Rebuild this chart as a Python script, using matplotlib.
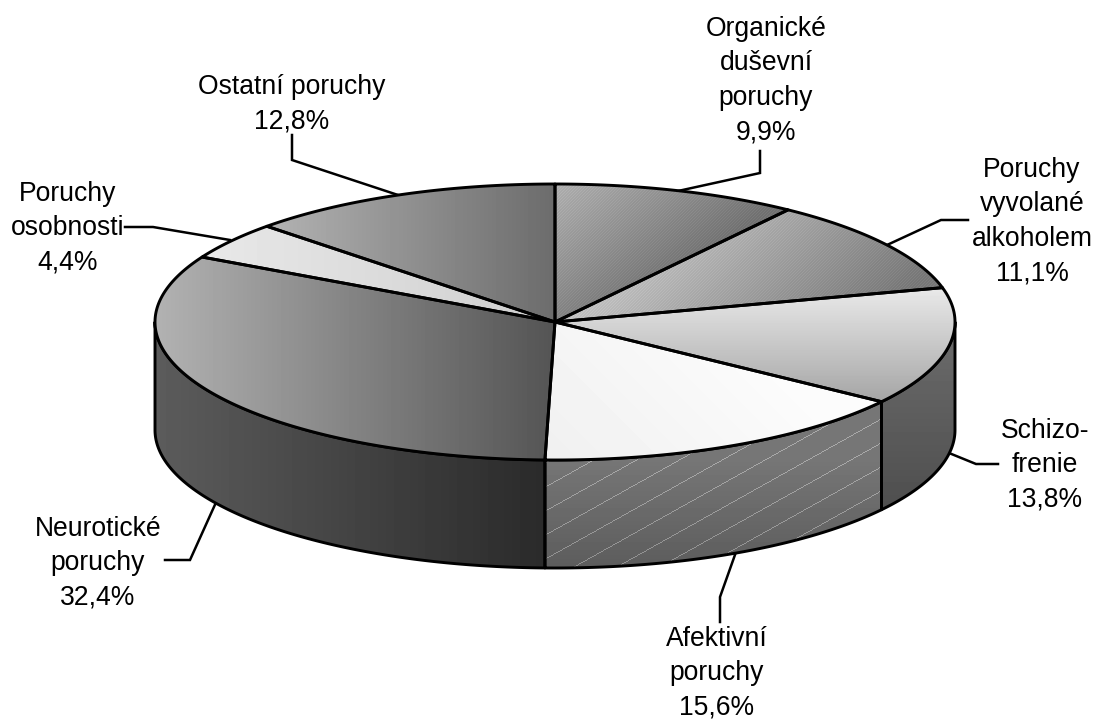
import numpy as np
import matplotlib
matplotlib.use('Agg')
import matplotlib.pyplot as plt
from matplotlib.patches import Polygon

W, H = 1093, 722

labels = [
    'Organické\nduševní\nporuchy',
    'Poruchy\nvyvolané\nalkoholem',
    'Schizo-\nfrenie',
    'Afektivní\nporuchy',
    'Neurotické\nporuchy',
    'Poruchy\nosobnosti',
    'Ostatní poruchy',
]
shares = [9.9, 11.1, 13.8, 15.6, 32.4, 4.4, 12.8]

# pie geometry in pixels
CX, CY = 555, 322
RX, RY = 400, 138
DEPTH = 108

# label centre x and the y of the first line's middle
label_pos = [(766, 27), (1032, 168), (1045, 429), (717, 637), (98, 527), (68, 192), (292, 85)]
leaders = [
    [(678, 191), (760, 173), (760, 151)],
    [(887, 245), (941, 220), (968, 220)],
    [(949, 453), (976, 464), (998, 464)],
    [(736, 552), (720, 597), (720, 622)],
    [(218, 498), (190, 560), (165, 560)],
    [(230, 240), (153, 227), (125, 227)],
    [(398, 195), (292, 160), (292, 135)],
]

plt.rcParams['font.family'] = ['Liberation Sans', 'DejaVu Sans']

fig = plt.figure(figsize=(W / 100, H / 100), dpi=100)
ax = fig.add_axes([0, 0, 1, 1])
ax.set_xlim(0, W)
ax.set_ylim(H, 0)
ax.axis('off')

X, Y = np.meshgrid(np.arange(W) + 0.5, np.arange(H) + 0.5)


def ramp(t, a, b):
    return (a + (b - a) * np.clip(t, 0, 1)) / 255


def top_xy(t):
    # t in degrees, clockwise from the back of the pie
    r = np.radians(t)
    return CX + RX * np.sin(r), CY - RY * np.cos(r)


def paint(xs, ys, gray, zorder):
    poly = Polygon(np.column_stack([xs, ys]), closed=True, fc='none', ec='black', lw=2.1,
                   joinstyle='round', zorder=zorder + 0.5)
    ax.add_patch(poly)
    im = ax.imshow(gray, cmap='gray', vmin=0, vmax=1, extent=(0, W, H, 0),
                   interpolation='nearest', aspect='auto', zorder=zorder)
    im.set_clip_path(poly)


dots = ((X.astype(int) + Y.astype(int)) % 3 == 0) * 0.035

top_fills = [
    ramp((X - 555 + (Y - 190) * 1.3) / 240, 172, 112) + dots,
    ramp((X - 620 + (Y - 250) * 1.0) / 330, 196, 118) + dots,
    ramp((Y - 290) / 110, 232, 166),
    ramp((X - 550 - (Y - 460) * 1.0) / 330, 240, 252),
    ramp((X - 155) / 400, 178, 84),
    ramp((X - 205) / 350, 232, 206),
    ramp((X - 270) / 285, 178, 108),
]

stripes = ((Y + 0.56 * X).astype(int) % 24 == 0) * 0.2
side_fills = {
    2: ramp((Y - 322) / 190, 108, 78),
    3: ramp((Y - 460) / 110, 118, 92) + stripes,
    4: ramp((X - 155) / 395, 92, 42),
}

edges = np.concatenate([[0], np.cumsum(shares)]) * 3.6

# side walls first, the top goes over them
for i, fill in side_fills.items():
    t0 = max(edges[i], 90)
    t1 = min(edges[i + 1], 270)
    t = np.linspace(t0, t1, 200)
    x, y = top_xy(t)
    paint(np.r_[x, x[::-1]], np.r_[y, y[::-1] + DEPTH], fill, 2)

for i, fill in enumerate(top_fills):
    t = np.linspace(edges[i], edges[i + 1], 200)
    x, y = top_xy(t)
    paint(np.r_[CX, x], np.r_[CY, y], fill, 3)

for pts in leaders:
    xs, ys = zip(*pts)
    ax.plot(xs, ys, color='black', lw=1.8, solid_joinstyle='miter', zorder=1)

for lab, share, (x, y) in zip(labels, shares, label_pos):
    text = lab + '\n' + f'{share:.1f}%'.replace('.', ',')
    ax.text(x, y - 11, text, ha='center', va='top', fontsize=19.1,
            linespacing=1.42, color='black', zorder=5)

fig.savefig('out.png', dpi=100)
